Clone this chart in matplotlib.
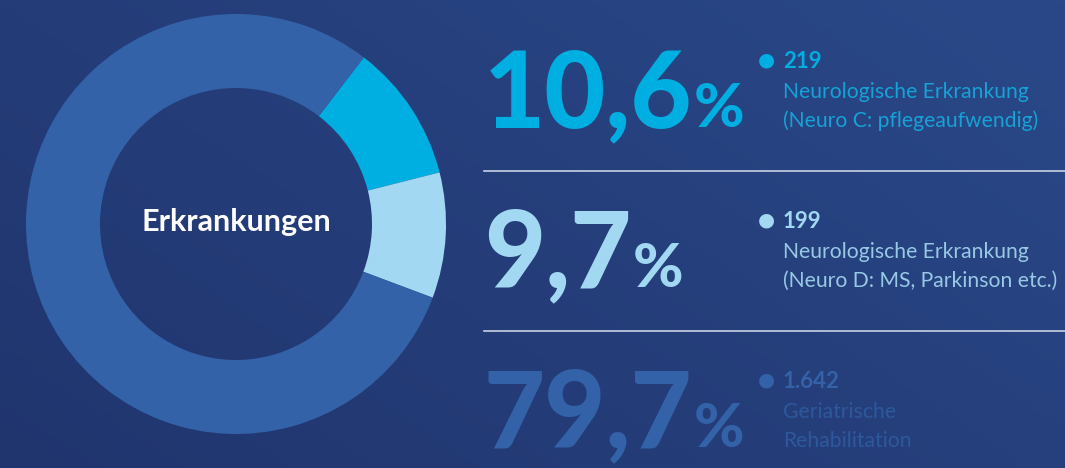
"""Erkrankungen donut with big percentage labels on the right."""

import numpy as np
import matplotlib
matplotlib.use('Agg')
import matplotlib.pyplot as plt
from matplotlib.colors import LinearSegmentedColormap

W, H = 1065, 468

# data
categories = ['Neuro C', 'Neuro D', 'Geriatrie']
counts = [219, 199, 1642]
shares = [10.6, 9.7, 79.7]
desc_1 = ['Neurologische Erkrankung', 'Neurologische Erkrankung', 'Geriatrische']
desc_2 = ['(Neuro C: pflegeaufwendig)', '(Neuro D: MS, Parkinson etc.)', 'Rehabilitation']
center_label = 'Erkrankungen'

seg_colors = ['#00afe1', '#a3d8f2', '#3462a8']
txt_colors = ['#16a2d6', '#97c9e4', '#2d589b']

fig = plt.figure(figsize=(W / 100, H / 100), dpi=100)

# background gradient
bg = fig.add_axes([0, 0, 1, 1])
xx, yy = np.meshgrid(np.linspace(0, 1, 200), np.linspace(0, 1, 100))
grad = 0.6 * xx + 0.4 * yy
cmap = LinearSegmentedColormap.from_list('bg', ['#20356e', '#2a4888'])
bg.imshow(grad, cmap=cmap, origin='lower', extent=[0, 1, 0, 1], aspect='auto')
bg.set_xlim(0, 1); bg.set_ylim(0, 1)
bg.axis('off')

def px(x, y):
    return x / W, 1 - y / H

# donut
cx, cy, r_out, r_in = 236, 224, 210, 136
pax = fig.add_axes([(cx - r_out) / W, (H - cy - r_out) / H, 2 * r_out / W, 2 * r_out / H])
pax.pie(counts, colors=seg_colors, startangle=52.5, counterclock=False, radius=1,
        wedgeprops=dict(width=(r_out - r_in) / r_out, linewidth=0))
pax.set_xlim(-1, 1); pax.set_ylim(-1, 1)
pax.set_aspect('equal'); pax.axis('off')
pax.text(0, 0.01, center_label, ha='center', va='center', color='white',
         fontsize=22, fontweight='bold', family='Lato')

def put(x, y, s, **kw):
    t = fig.text(x / W, 1 - y / H, s, ha='left', va='baseline', **kw)
    fig.canvas.draw()
    return t.get_window_extent().x1

# rows on the right
base_y = [127, 287, 447]
for i in range(3):
    by = base_y[i]
    num = f'{shares[i]:.1f}'.replace('.', ',')
    big = dict(color=seg_colors[i], fontsize=76, fontweight='black', family='Lato')
    x = put(484, by, num, **big)
    put(x + 1, by, '%', color=seg_colors[i], fontsize=44, fontweight='black', family='Lato')

    ty = by - 67
    fig.text(*px(766, ty), '\u25CF', ha='center', va='center', color=seg_colors[i],
             fontsize=14, family='DejaVu Sans')
    cnt = f'{counts[i]:,}'.replace(',', '.')
    fig.text(*px(783, ty + 1), cnt, ha='left', va='center', color=seg_colors[i],
             fontsize=16, fontweight='bold', family='Lato')
    fig.text(*px(783, ty + 32), desc_1[i], ha='left', va='center', color=txt_colors[i],
             fontsize=15.2, fontweight='normal', family='Lato')
    fig.text(*px(783, ty + 61), desc_2[i], ha='left', va='center', color=txt_colors[i],
             fontsize=15.2, fontweight='normal', family='Lato')

# divider lines
for ly in [171, 331]:
    bg.plot([484 / W, 1], [1 - ly / H, 1 - ly / H], color='#c9d2e4', linewidth=1.2)

fig.savefig('out.png', dpi=100)
plt.close(fig)
